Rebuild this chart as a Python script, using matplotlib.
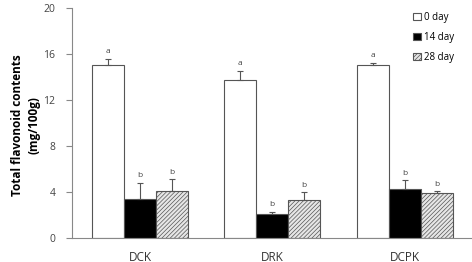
import matplotlib.pyplot as plt
import numpy as np

plt.rcParams['font.family'] = ['Open Sans', 'DejaVu Sans']
plt.rcParams['hatch.linewidth'] = 0.5

groups = ['DCK', 'DRK', 'DCPK']
series = ['0 day', '14 day', '28 day']
values = [[15.0, 13.75, 15.0],
          [3.4, 2.05, 4.3],
          [4.1, 3.3, 3.9]]
errors = [[0.6, 0.8, 0.25],
          [1.4, 0.25, 0.7],
          [1.0, 0.7, 0.15]]
letters = [['a', 'a', 'a'],
           ['b', 'b', 'b'],
           ['b', 'b', 'b']]

faces = ['white', 'black', '#e6e6e6']
hatches = [None, None, '////////']

fig = plt.figure(figsize=(4.72, 2.62), dpi=100)
ax = fig.add_axes([0.1525, 0.0916, 0.845, 0.878])

x = np.arange(len(groups))
w = 0.2415
for i in range(3):
    pos = x + (i - 1) * w
    ax.bar(pos, values[i], w, color=faces[i], edgecolor='#555555',
           linewidth=0.8, hatch=hatches[i], label=series[i],
           yerr=[np.zeros(3), errors[i]], capsize=2,
           error_kw=dict(ecolor='#555555', elinewidth=0.8, capthick=0.8))
    for j in range(3):
        ax.text(pos[j], values[i][j] + errors[i][j] + 0.3, letters[i][j],
                ha='center', va='bottom', fontsize=6, color='#444444')

ax.set_xlim(-0.513, 2.5)
ax.set_ylim(0, 20)
ax.set_yticks([0, 4, 8, 12, 16, 20])
ax.set_xticks(x)
ax.set_xticklabels(groups, fontsize=8.5, color='#333333')
ax.tick_params(axis='x', length=0, pad=9)
ax.tick_params(axis='y', labelsize=7.5, labelcolor='#444444', color='#888888',
               length=4, width=0.8, pad=8)
for s in ['top', 'right']:
    ax.spines[s].set_visible(False)
for s in ['left', 'bottom']:
    ax.spines[s].set_color('#888888')
    ax.spines[s].set_linewidth(0.8)

ax.set_ylabel('Total flavonoid contents\n(mg/100g)', fontsize=8.5,
              fontweight='bold', linespacing=1.3)
ax.yaxis.set_label_coords(-0.08, 0.49)

ax.legend(loc='upper right', bbox_to_anchor=(0.98, 1.02), frameon=False,
          fontsize=7, handlelength=0.8, handleheight=0.8, handletextpad=0.3,
          labelspacing=0.9)

fig.savefig('out.png', dpi=100)
